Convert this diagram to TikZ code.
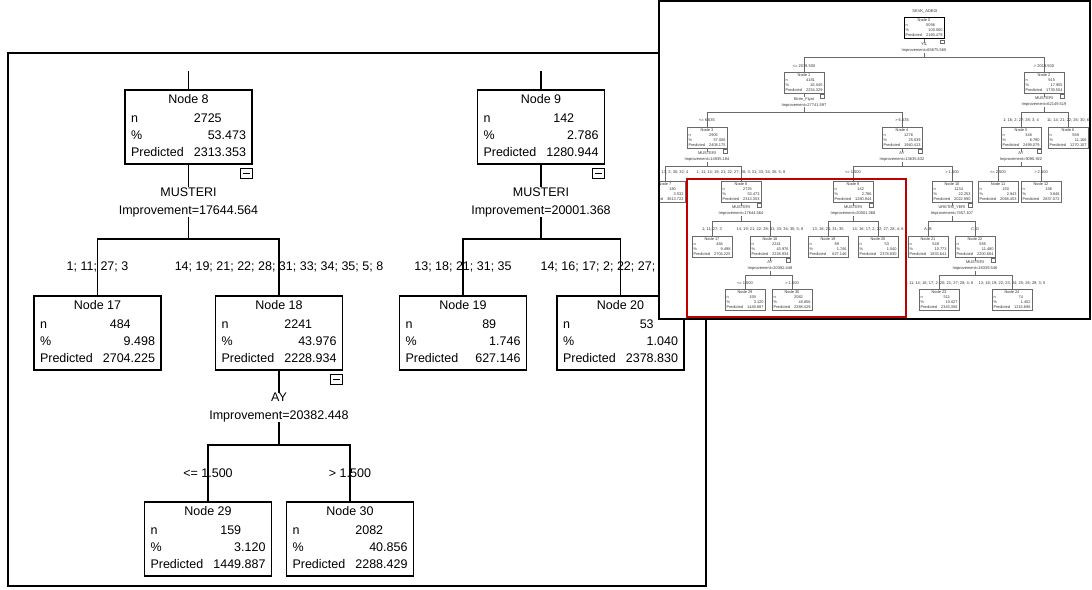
\documentclass[tikz,border=0pt]{standalone}
\usepackage{fontspec}
\setmainfont{Liberation Sans}
\usetikzlibrary{positioning,calc}
\definecolor{insetgray}{RGB}{105,105,105}
\definecolor{markred}{RGB}{192,0,0}
% box contents: title, n, % and predicted value, decimals aligned
\newcommand{\stats}[5]{%
  \begin{tabular*}{#1}{@{}l@{\extracolsep{\fill}}r@{\extracolsep{0pt}}l@{}}
    \multicolumn{3}{@{}c@{}}{#2}\\[0.15em]
    n & #3 & \\
    \% & #4\\
    Predicted & #5
  \end{tabular*}}
\tikzset{
  treebox/.style={draw, line width=1.6pt, fill=white, minimum width=127pt,
    minimum height=74pt, inner sep=0pt, font=\fontsize{12.5}{17}\selectfont},
  minusbox/.style={draw, line width=1.2pt, fill=white, minimum width=12pt,
    minimum height=10pt, inner sep=0pt},
  splitlabel/.style={align=center, inner sep=1pt, font=\fontsize{12.5}{18}\selectfont},
  catlabel/.style={inner sep=0pt, font=\fontsize{12.5}{15}\selectfont},
  branch/.style={line width=1.8pt, line cap=rect},
  insetbox/.style={draw=insetgray, line width=0.5pt, fill=white, minimum width=40pt,
    minimum height=21pt, inner sep=0pt, text=black!80, font=\fontsize{3.9}{4.8}\selectfont},
  insetminus/.style={draw=insetgray, line width=0.4pt, fill=white, minimum width=4pt,
    minimum height=3.5pt, inner sep=0pt},
  insetsplit/.style={align=center, inner sep=0.3pt, text=black!80, font=\fontsize{4}{6}\selectfont},
  insetcat/.style={inner sep=0pt, text=black!80, font=\fontsize{4}{4.5}\selectfont},
  insetbranch/.style={draw=insetgray, line width=0.5pt},
  markbox/.style={draw=markred, line width=2pt}
}
\begin{document}
\begin{tikzpicture}[x=1pt, y=-1pt]
\useasboundingbox (0,0) rectangle (1092,589);

% zoomed part of the tree
\draw[line width=2.4pt] (8,53) rectangle (706,586);
\coordinate (top8) at (188.5,72);
\coordinate (top9) at (541,72);
\node[treebox] (m8) at (188.5,127) {\stats{115pt}{Node 8}{2725}{53&.473}{2313&.353}};
\node[treebox] (m9) at (541,127) {\stats{115pt}{Node 9}{142}{2&.786}{1280&.944}};
\node[treebox] (m17) at (97.5,333) {\stats{115pt}{Node 17}{484}{9&.498}{2704&.225}};
\node[treebox] (m18) at (279,333) {\stats{115pt}{Node 18}{2241}{43&.976}{2228&.934}};
\node[treebox] (m19) at (463,333) {\stats{115pt}{Node 19}{89}{1&.746}{627&.146}};
\node[treebox] (m20) at (620.5,333) {\stats{115pt}{Node 20}{53}{1&.040}{2378&.830}};
\node[treebox] (m29) at (208,539) {\stats{115pt}{Node 29}{159}{3&.120}{1449&.887}};
\node[treebox] (m30) at (350,539) {\stats{115pt}{Node 30}{2082}{40&.856}{2288&.429}};
\node[splitlabel] (s8) at (188.5,202) {MUSTERI\\Improvement=17644.564};
\node[splitlabel] (s9) at (541,202) {MUSTERI\\Improvement=20001.368};
\node[splitlabel] (s18) at (279,407.5) {AY\\Improvement=20382.448};
\coordinate (bar8) at (188.5,239);
\coordinate (bar9) at (541,239);
\coordinate (bar18) at (279,445);
\draw[branch] (top8) -- (m8) (top9) -- (m9);
\foreach \p/\l/\r in {8/17/18, 9/19/20, 18/29/30}
  \draw[branch] (m\p) -- (s\p) (s\p) -- (bar\p) -| (m\l) (bar\p) -| (m\r);
\foreach \p in {8,9,18}
  \node[minusbox, below left=3pt and 0pt of m\p.south east] {\rule{7pt}{1.2pt}};
\node[catlabel] at (97.5,267) {1; 11; 27; 3};
\node[catlabel] at (279,267) {14; 19; 21; 22; 28; 31; 33; 34; 35; 5; 8};
\node[catlabel] at (463,267) {13; 18; 21; 31; 35};
\node[catlabel] at (620.5,267) {14; 16; 17; 2; 22; 27; 28; 4; 6};
\node[catlabel] at (208,473) {<= 1.500};
\node[catlabel] at (350,473) {> 1.500};

% overview of the whole tree
\fill[white] (659,1) rectangle (1090,319);
\begin{scope}
\clip (659,1) rectangle (1090,319);
\node[insetcat] (ttl) at (925,12) {SEVK\_ADEDI};
\node[insetbox, draw=black, line width=1pt] (i0) at (924,28) {\stats{37pt}{Node 0}{5096}{100&.000}{2169&.479}};
\node[insetbox] (i1) at (804,83) {\stats{37pt}{Node 1}{4181}{82&.045}{2254&.329}};
\node[insetbox] (i2) at (1044,83) {\stats{37pt}{Node 2}{915}{17&.955}{1739&.504}};
\node[insetbox] (i3) at (707,138) {\stats{37pt}{Node 3}{2905}{57&.006}{2408&.175}};
\node[insetbox] (i4) at (902,138) {\stats{37pt}{Node 4}{1276}{25&.039}{1940&.413}};
\node[insetbox] (i5) at (1021,138) {\stats{37pt}{Node 5}{346}{6&.790}{2499&.079}};
\node[insetbox] (i6) at (1068,138) {\stats{37pt}{Node 6}{569}{11&.166}{1270&.107}};
\node[insetbox] (i7) at (665,192) {\stats{37pt}{Node 7}{180}{3&.532}{3613&.722}};
\node[insetbox] (i8) at (741,192) {\stats{37pt}{Node 8}{2725}{53&.473}{2313&.353}};
\node[insetbox] (i9) at (853,192) {\stats{37pt}{Node 9}{142}{2&.786}{1280&.944}};
\node[insetbox] (i10) at (952,192) {\stats{37pt}{Node 10}{1134}{22&.253}{2022&.990}};
\node[insetbox] (i11) at (998,192) {\stats{37pt}{Node 11}{150}{2&.943}{2068&.453}};
\node[insetbox] (i12) at (1041,192) {\stats{37pt}{Node 12}{196}{3&.846}{2837&.072}};
\node[insetbox] (i17) at (712,247) {\stats{37pt}{Node 17}{484}{9&.498}{2704&.225}};
\node[insetbox] (i18) at (770,247) {\stats{37pt}{Node 18}{2241}{43&.976}{2228&.934}};
\node[insetbox] (i19) at (828,247) {\stats{37pt}{Node 19}{89}{1&.746}{627&.146}};
\node[insetbox] (i20) at (878,247) {\stats{37pt}{Node 20}{53}{1&.040}{2378&.830}};
\node[insetbox] (i21) at (928,247) {\stats{37pt}{Node 21}{549}{10&.773}{1833&.641}};
\node[insetbox] (i22) at (975,247) {\stats{37pt}{Node 22}{585}{11&.480}{2200&.664}};
\node[insetbox] (i29) at (745,300) {\stats{37pt}{Node 29}{159}{3&.120}{1449&.887}};
\node[insetbox] (i30) at (792,300) {\stats{37pt}{Node 30}{2082}{40&.856}{2288&.429}};
\node[insetbox] (i23) at (939,300) {\stats{37pt}{Node 23}{511}{10&.027}{2343&.356}};
\node[insetbox] (i24) at (1012,300) {\stats{37pt}{Node 24}{74}{1&.452}{1215&.696}};
\node[insetsplit] (si0) at (924,48) {YIL\\Improvement=65675.565};
\node[insetsplit] (si1) at (804,102) {Birim\_Fiyat\\Improvement=27741.597};
\node[insetsplit] (si2) at (1044,102) {MUSTERI\\Improvement=62149.519};
\node[insetsplit] (si3) at (707,157) {MUSTERI\\Improvement=14935.184};
\node[insetsplit] (si4) at (902,157) {AY\\Improvement=13635.632};
\node[insetsplit] (si5) at (1021,157) {AY\\Improvement=9090.922};
\node[insetsplit] (si8) at (741,211) {MUSTERI\\Improvement=17644.564};
\node[insetsplit] (si9) at (853,211) {MUSTERI\\Improvement=20001.368};
\node[insetsplit] (si10) at (952,211) {URETIM\_YERI\\Improvement=7457.107};
\node[insetsplit] (si18) at (770,266) {AY\\Improvement=20382.448};
\node[insetsplit] (si22) at (975,266) {MUSTERI\\Improvement=18339.546};
\coordinate (ib0) at (924,57);
\coordinate (ib1) at (804,112);
\coordinate (ib2) at (1044,112);
\coordinate (ib3) at (707,166);
\coordinate (ib4) at (902,166);
\coordinate (ib5) at (1021,166);
\coordinate (ib8) at (741,221);
\coordinate (ib9) at (853,221);
\coordinate (ib10) at (952,221);
\coordinate (ib18) at (770,275);
\coordinate (ib22) at (975,275);
\foreach \p/\l/\r in {0/1/2, 1/3/4, 2/5/6, 3/7/8, 4/9/10, 5/11/12, 8/17/18, 9/19/20, 10/21/22, 18/29/30, 22/23/24}
  \draw[insetbranch] (i\p) -- (si\p) (si\p) -- (ib\p) -| (i\l) (ib\p) -| (i\r);
\foreach \p in {0,1,2,3,4,5,8,9,10,18,22}
  \node[insetminus, below left=0.6pt and 0pt of i\p.south east] {};
\node[insetcat] at (804,66) {<= 2019.500};
\node[insetcat] at (1044,66) {> 2019.500};
\node[insetcat] at (707,120) {<= 6.635};
\node[insetcat] at (902,120) {> 6.635};
\node[insetcat] at (1021,120) {1; 16; 2; 27; 28; 3; 4};
\node[insetcat] at (1068,120) {11; 14; 21; 22; 26; 30; 6};
\node[insetcat] at (665,172) {10; 12; 16; 17; 2; 30; 32; 4};
\node[insetcat] at (741,172) {1; 11; 14; 19; 21; 22; 27; 28; 3; 31; 33; 34; 35; 5; 8};
\node[insetcat] at (853,172) {<= 1.500};
\node[insetcat] at (952,172) {> 1.500};
\node[insetcat] at (998,172) {<= 2.500};
\node[insetcat] at (1041,172) {> 2.500};
\node[insetcat] at (712,229) {1; 11; 27; 3};
\node[insetcat] at (770,229) {14; 19; 21; 22; 28; 31; 33; 34; 35; 5; 8};
\node[insetcat] at (828,229) {13; 18; 21; 31; 35};
\node[insetcat] at (878,229) {14; 16; 17; 2; 22; 27; 28; 4; 6};
\node[insetcat] at (928,229) {A; B};
\node[insetcat] at (975,229) {C; D};
\node[insetcat] at (745,283) {<= 1.500};
\node[insetcat] at (792,283) {> 1.500};
\node[insetcat] at (939,283) {1; 11; 14; 16; 17; 2; 20; 21; 27; 28; 4; 6};
\node[insetcat] at (1012,283) {13; 18; 19; 22; 23; 24; 25; 26; 29; 3; 5};
\draw[markbox] (687,179) rectangle (906,317);
\end{scope}
\draw[line width=2.2pt] (659,1) rectangle (1090,319);
\end{tikzpicture}
\end{document}
